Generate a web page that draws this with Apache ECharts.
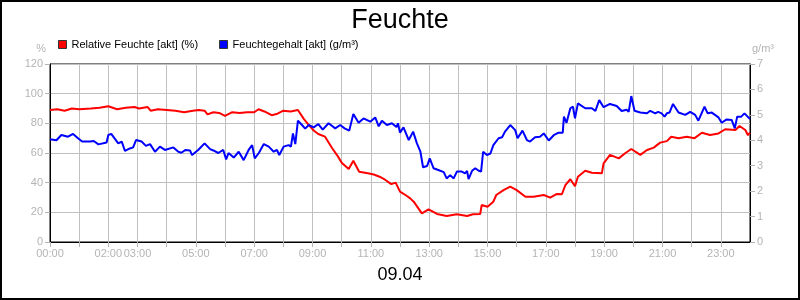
<!DOCTYPE html>
<html>
<head>
<meta charset="utf-8">
<script src="https://cdn.jsdelivr.net/npm/echarts@6/dist/echarts.min.js"></script>
<style>html,body{margin:0;padding:0;background:#fff}#c{width:800px;height:300px}</style>
</head>
<body>
<div id="c"></div>
<script>
// hours shown as tick labels on the x axis
var xLabelHours = [0, 2, 3, 5, 7, 9, 11, 13, 15, 17, 19, 21, 23];
var seriesNames = ['Relative Feuchte [akt] (%)', 'Feuchtegehalt [akt] (g/m³)'];

// Relative Feuchte [%] : time (hours) and value
var rhTimes = [0.0,0.25,0.5,0.75,1.0,1.4,1.7,2.0,2.3,2.6,2.9,3.05,3.35,3.45,3.7,4.0,4.3,4.6,4.9,5.1,5.3,5.4,5.6,5.8,6.0,6.25,6.5,6.75,7.0,7.15,7.35,7.6,7.8,8.0,8.25,8.5,8.7,8.87,9.05,9.2,9.43,9.67,9.84,10.0,10.24,10.4,10.6,10.9,11.1,11.3,11.5,11.7,11.85,12.0,12.2,12.35,12.47,12.75,12.98,13.27,13.6,13.95,14.3,14.5,14.75,14.8,15.0,15.2,15.3,15.55,15.78,16.0,16.3,16.58,16.93,17.15,17.38,17.55,17.67,17.84,18.0,18.1,18.35,18.58,18.92,18.98,19.2,19.5,19.72,19.93,20.24,20.47,20.7,20.92,21.15,21.3,21.55,21.83,22.1,22.35,22.63,22.92,23.15,23.5,23.64,23.84,23.93,24.0];
var rhValues = [89,89.5,88.5,90,89.5,90,90.5,91.5,89.5,90.5,91,90,91,88.5,89.5,89,88.5,87.5,88.5,89,88.5,86,87.5,87,85,87.5,87,87.5,87.5,89.5,88,85.5,86.5,88.5,88,89,83,79,75,72.8,71,63.4,58.6,53.5,49.2,54.8,47.4,46.3,45.5,44,41.8,39,40,34,31.5,29.4,27.2,19.3,22,18.9,17.5,18.7,17.5,18.7,18.9,24.9,23.8,27.2,31.7,35,37.3,35,30.5,30.5,31.7,29.9,32.4,32.2,38.4,42.3,37.7,44,48,46.7,46.3,53,58.7,56.4,59.8,62.7,58.7,62,63.6,67,68,71,70,71,70,73.7,72.1,73.2,76,75.5,78.2,75.5,72,73.7];

// Feuchtegehalt [g/m³] : time (hours) and value
var ahTimes = [0.0,0.22,0.39,0.62,0.79,0.96,1.1,1.37,1.5,1.66,1.94,2.0,2.1,2.34,2.46,2.57,2.74,2.85,2.95,3.14,3.29,3.43,3.6,3.77,3.94,4.23,4.4,4.5,4.65,4.8,4.87,5.08,5.3,5.49,5.6,5.77,5.94,6.04,6.12,6.3,6.47,6.64,6.81,6.93,7.02,7.16,7.33,7.5,7.67,7.78,7.86,8.01,8.18,8.26,8.33,8.41,8.5,8.64,8.75,8.87,9.04,9.2,9.35,9.55,9.78,9.95,10.1,10.26,10.4,10.58,10.75,10.98,11.15,11.27,11.38,11.55,11.72,11.88,11.93,12.0,12.12,12.3,12.45,12.58,12.7,12.79,12.93,13.02,13.15,13.38,13.5,13.6,13.72,13.84,13.95,14.12,14.23,14.3,14.35,14.47,14.58,14.7,14.78,14.85,14.98,15.1,15.2,15.38,15.5,15.6,15.78,15.95,16.03,16.2,16.35,16.46,16.63,16.8,16.93,17.1,17.27,17.44,17.58,17.62,17.71,17.84,17.93,18.0,18.1,18.35,18.58,18.7,18.83,18.98,19.2,19.43,19.6,19.77,19.84,19.93,20.04,20.24,20.47,20.58,20.75,20.85,20.97,21.07,21.15,21.24,21.36,21.55,21.78,21.95,22.12,22.23,22.44,22.55,22.69,22.92,23.03,23.2,23.37,23.48,23.56,23.7,23.81,24.0];
var ahValues = [4.04,4.0,4.21,4.14,4.25,4.08,3.95,3.95,3.97,3.84,3.91,4.21,4.25,3.88,3.95,3.58,3.68,3.72,4.01,3.95,3.78,3.85,3.55,3.75,3.62,3.72,3.55,3.51,3.62,3.6,3.42,3.62,3.88,3.65,3.6,3.5,3.62,3.25,3.5,3.32,3.55,3.22,3.62,3.81,3.29,3.5,3.85,3.75,3.55,3.62,3.42,3.75,3.81,3.75,4.27,3.85,4.77,4.6,4.46,4.6,4.51,4.64,4.42,4.67,4.47,4.6,4.47,4.38,5.03,4.69,4.86,4.73,4.9,4.55,4.77,4.6,4.67,4.52,4.67,4.3,4.51,4.01,4.34,3.88,3.55,2.94,2.99,3.29,2.9,2.8,2.75,2.5,2.63,2.5,2.77,2.77,2.7,2.8,2.47,2.8,2.9,2.8,2.77,3.55,3.42,3.48,3.81,4.08,4.12,4.34,4.6,4.4,4.08,4.38,4.01,3.95,4.12,4.14,4.27,3.99,4.2,4.3,4.3,4.93,4.69,5.26,5.32,4.86,5.45,5.26,5.26,5.15,5.58,5.3,5.43,5.35,5.15,5.2,5.12,5.74,5.16,5.09,5.06,5.16,5.06,5.12,5.06,4.93,5.06,5.09,5.43,5.09,5.0,5.12,5.0,4.77,5.32,5.06,5.09,4.9,4.69,4.82,4.8,4.47,4.93,4.93,5.06,4.83];

function pairs(t, v) { return t.map(function (x, i) { return [x, v[i]]; }); }
function pad(n) { return (n < 10 ? '0' : '') + n; }

var gray = '#b4b4b4';
var font = 'Liberation Sans, Arial, sans-serif';
var chart = echarts.init(document.getElementById('c'), null, {renderer: 'canvas'});
chart.setOption({
  animation: false,
  backgroundColor: '#fff',
  title: {
    text: 'Feuchte', left: 'center', top: 2,
    textStyle: {fontFamily: font, fontSize: 27, fontWeight: 'normal', color: '#000'}
  },
  legend: {
    left: 58, top: 39, padding: 0, icon: 'rect', itemWidth: 8, itemHeight: 8, itemGap: 21,
    textStyle: {fontFamily: font, fontSize: 11, color: '#000'},
    itemStyle: {borderColor: '#333', borderWidth: 1},
    data: seriesNames
  },
  grid: {left: 50, right: 50, top: 64, bottom: 58, show: true, borderColor: '#000', borderWidth: 1},
  xAxis: {
    type: 'value', min: 0, max: 24, interval: 1,
    axisLine: {lineStyle: {color: '#000', width: 1}},
    axisTick: {length: 5, lineStyle: {color: gray}},
    axisLabel: {
      color: gray, fontFamily: font, fontSize: 11, margin: 6, showMaxLabel: false,
      formatter: function (v) { return xLabelHours.indexOf(v) >= 0 ? pad(v) + ':00' : ''; }
    },
    splitLine: {lineStyle: {color: '#c0c0c0', width: 1}}
  },
  yAxis: [{
    type: 'value', min: 0, max: 120, interval: 20, name: '%',
    nameTextStyle: {color: gray, fontFamily: font, fontSize: 11, align: 'right', padding: [0, 4, 0, 0]},
    nameGap: 10,
    axisLine: {show: true, lineStyle: {color: '#000'}},
    axisTick: {show: true, length: 5, lineStyle: {color: gray}},
    axisLabel: {color: gray, fontFamily: font, fontSize: 11, margin: 7},
    splitLine: {lineStyle: {color: '#c0c0c0', width: 1}}
  }, {
    type: 'value', min: 0, max: 7, interval: 1, name: 'g/m³', position: 'right',
    nameTextStyle: {color: gray, fontFamily: font, fontSize: 11, align: 'left', padding: [0, 0, 0, 2]},
    nameGap: 10,
    axisLine: {show: true, lineStyle: {color: '#000'}},
    axisTick: {show: true, length: 5, lineStyle: {color: gray}},
    axisLabel: {color: gray, fontFamily: font, fontSize: 11, margin: 7},
    splitLine: {show: false}
  }],
  series: [{
    name: seriesNames[0], type: 'line', yAxisIndex: 0, showSymbol: false,
    data: pairs(rhTimes, rhValues), color: '#ff0000',
    lineStyle: {color: '#ff0000', width: 2}
  }, {
    name: seriesNames[1], type: 'line', yAxisIndex: 1, showSymbol: false,
    data: pairs(ahTimes, ahValues), color: '#0000ff',
    lineStyle: {color: '#0000ff', width: 2}
  }],
  graphic: [{
    type: 'text', left: 'center', top: 266,
    style: {text: '09.04', fontFamily: font, fontSize: 18, fill: '#000'}
  }, {
    type: 'rect', shape: {x: 1, y: 1, width: 798, height: 298},
    style: {fill: null, stroke: '#000', lineWidth: 2}, silent: true, z: 100
  }]
});
</script>
</body>
</html>
